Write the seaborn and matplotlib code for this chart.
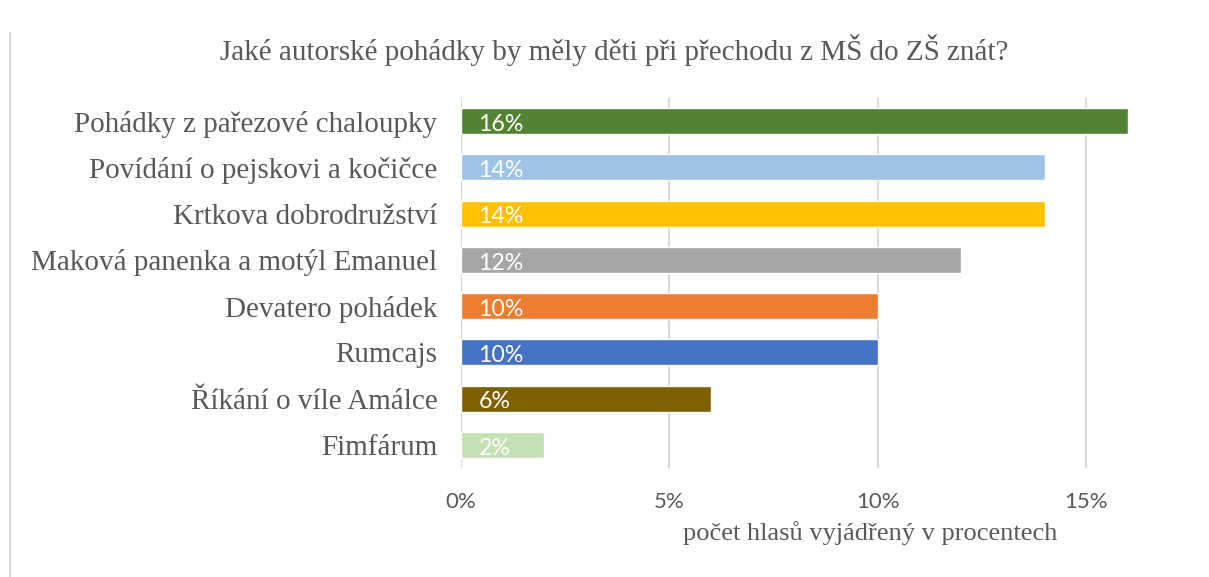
import matplotlib
matplotlib.use("Agg")
import matplotlib.pyplot as plt
import seaborn as sns
import pandas as pd
from matplotlib.lines import Line2D

categories = ["Pohádky z pařezové chaloupky", "Povídání o pejskovi a kočičce",
              "Krtkova dobrodružství", "Maková panenka a motýl Emanuel",
              "Devatero pohádek", "Rumcajs", "Říkání o víle Amálce", "Fimfárum"]
values = [16, 14, 14, 12, 10, 10, 6, 2]
colors = ["#548235", "#9DC3E6", "#FFC000", "#A5A5A5",
          "#ED7D31", "#4472C4", "#7F6000", "#C5E0B4"]
xticks = [0, 5, 10, 15]
title = "Jaké autorské pohádky by měly děti při přechodu z MŠ do ZŠ znát?"
xlabel = "počet hlasů vyjádřený v procentech"

sns.set_style("white")
serif = ["Liberation Serif", "DejaVu Serif"]
sans = ["Lato", "DejaVu Sans"]

df = pd.DataFrame({"cat": categories, "val": values})
fig = plt.figure(figsize=(12.09, 5.77), dpi=100)
ax = fig.add_axes([461/1209, 109/577, 667/1209, 370/577])
sns.barplot(data=df, y="cat", x="val", hue="cat", palette=colors,
            legend=False, width=0.56, ax=ax, orient="h", saturation=1)
ax.set_xlim(0, 16)
ax.set_xticks(xticks)
ax.set_xticklabels([f"{t}%" for t in xticks], fontfamily=sans, fontsize=16, color="#595959")
ax.tick_params(axis="x", length=0, pad=17)
ax.tick_params(axis="y", length=0, pad=17)
for lab in ax.get_yticklabels():
    lab.set_fontfamily(serif)
    lab.set_fontsize(21)
    lab.set_color("#595959")
ax.set_ylabel("")
ax.set_xlabel("")
for s in ax.spines.values():
    s.set_visible(False)
ax.grid(axis="x", color="#D9D9D9", linewidth=1.5)
ax.set_axisbelow(True)

for i, v in enumerate(values):
    ax.text(0.42, i + 0.07, f"{v}%", va="center", ha="left", color="white",
            fontsize=16.7, fontfamily=sans)

fig.text(614/1209, 1 - 50/577, title, ha="center", va="center",
         fontsize=21, fontfamily=serif, color="#595959")
fig.text(870/1209, 1 - 533/577, xlabel, ha="center", va="center",
         fontsize=19, fontfamily=serif, color="#595959")
fig.add_artist(Line2D([10/1209, 10/1209], [0, 1 - 33/577], transform=fig.transFigure,
                      color="#D9D9D9", linewidth=1.5))
fig.savefig("out.png", dpi=100)
